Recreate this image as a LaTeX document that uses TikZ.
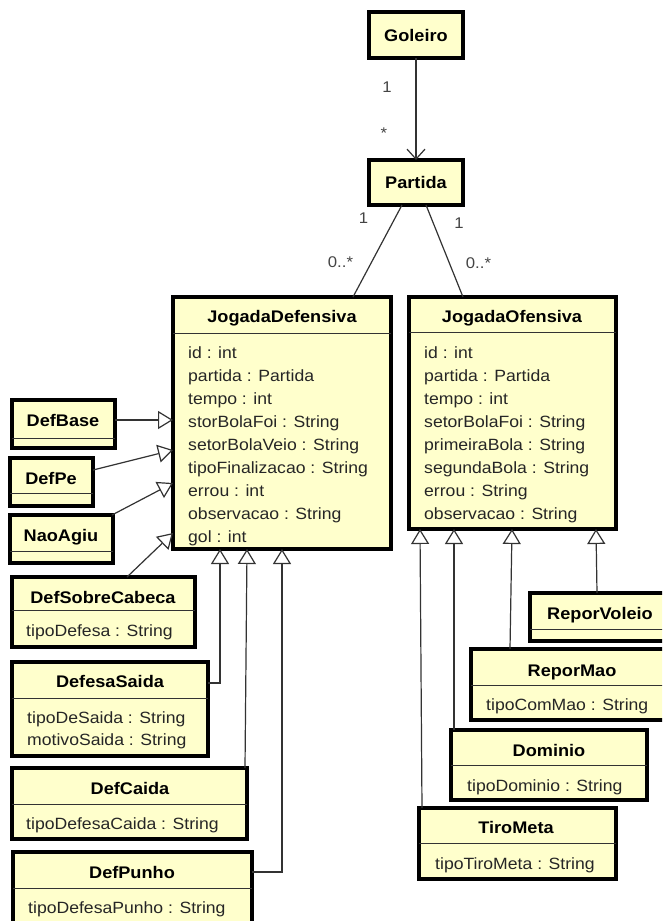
\documentclass[tikz,border=0pt]{standalone}
\usepackage{fontspec}
\setmainfont{Liberation Sans}[FakeStretch=1.08]
\usetikzlibrary{arrows.meta}
\definecolor{clsfill}{HTML}{FFFFCC}
\definecolor{linegray}{HTML}{333333}
\definecolor{lblgray}{HTML}{444444}
\definecolor{attrtext}{HTML}{262626}
\tikzset{
  cls/.style={draw=black, line width=3.1pt, fill=clsfill, inner sep=0pt, outer sep=0pt, anchor=north west},
  sepline/.style={draw=linegray, line width=1pt},
  ctitle/.style={font=\fontsize{16.8}{20}\selectfont\bfseries, anchor=base, inner sep=0pt},
  cattr/.style={font=\fontsize{16.3}{20}\selectfont, text=attrtext, anchor=base west, inner sep=0pt},
  gen/.style={draw=linegray, line width=1.2pt, -{Triangle[length=15pt, width=18pt, fill=white]}},
  assoc/.style={draw=linegray, line width=1.2pt},
  nav/.style={assoc, -{Straight Barb[length=10pt, width=18pt]}},
  mult/.style={font=\fontsize{15.5}{18}\selectfont, text=lblgray, inner sep=0pt},
}
% #1 name, #2 x1, #3 y1, #4 x2, #5 y2
\newcommand\ClassBox[5]{%
  \node[cls, minimum width={#4-#2}, minimum height={#5-#3}] (#1) at (#2,#3) {};}
\newcommand\ClassSep[2]{%
  \draw[sepline] (#1.west |- 0,#2) -- (#1.east |- 0,#2);}
\begin{document}
\begin{tikzpicture}[x=1pt, y=-1pt]
\useasboundingbox (0,0) rectangle (662,921);
\fill[white] (0,0) rectangle (662,921);
\clip (0,0) rectangle (662,921);

% ---------- Goleiro / Partida ----------
\ClassBox{goleiro}{369}{12}{463}{58}
\node[ctitle] (goleiro-t) at (416,41) {Goleiro};
\ClassBox{partida}{369}{160}{463}{205}
\node[ctitle] (partida-t) at (416,188) {Partida};

% ---------- JogadaDefensiva ----------
\ClassBox{jd}{173}{297}{391}{549}
\ClassSep{jd}{333}
\node[ctitle] (jd-t) at (282,322) {JogadaDefensiva};
\foreach \t [count=\i from 0] in {id : int, partida : Partida, tempo : int, storBolaFoi : String, setorBolaVeio : String, tipoFinalizacao : String, errou : int, observacao : String, gol : int}
  \node[cattr] (jd-a\i) at (188,358+23*\i) {\t};

% ---------- JogadaOfensiva ----------
\ClassBox{jo}{409}{297}{616}{529}
\ClassSep{jo}{332}
\node[ctitle] (jo-t) at (512,322) {JogadaOfensiva};
\foreach \t [count=\i from 0] in {id : int, partida : Partida, tempo : int, setorBolaFoi : String, primeiraBola : String, segundaBola : String, errou : String, observacao : String}
  \node[cattr] (jo-a\i) at (424,358+23*\i) {\t};

% ---------- left subclasses ----------
\ClassBox{defbase}{12}{400}{115}{448}
\ClassSep{defbase}{438}
\node[ctitle] (defbase-t) at (63,426) {DefBase};

\ClassBox{defpe}{10}{458}{93}{506}
\ClassSep{defpe}{493}
\node[ctitle] (defpe-t) at (51,484) {DefPe};

\ClassBox{naoagiu}{10}{515}{113}{563}
\ClassSep{naoagiu}{551}
\node[ctitle] (naoagiu-t) at (61,541) {NaoAgiu};

\ClassBox{sobre}{12}{577}{195}{647}
\ClassSep{sobre}{610}
\node[ctitle] (sobre-t) at (103,603) {DefSobreCabeca};
\node[cattr] (sobre-a0) at (26,636) {tipoDefesa : String};

\ClassBox{saida}{12}{662}{208}{756}
\ClassSep{saida}{698}
\node[ctitle] (saida-t) at (110,687) {DefesaSaida};
\node[cattr] (saida-a0) at (27,723) {tipoDeSaida : String};
\node[cattr] (saida-a1) at (27,745) {motivoSaida : String};

\ClassBox{caida}{12}{768}{247}{839}
\ClassSep{caida}{804}
\node[ctitle] (caida-t) at (130,794) {DefCaida};
\node[cattr] (caida-a0) at (26,829) {tipoDefesaCaida : String};

\ClassBox{punho}{13}{852}{252}{940}
\ClassSep{punho}{888}
\node[ctitle] (punho-t) at (132,878) {DefPunho};
\node[cattr] (punho-a0) at (28,913) {tipoDefesaPunho : String};

% ---------- right subclasses ----------
\ClassBox{voleio}{530}{593}{670}{641}
\ClassSep{voleio}{629}
\node[ctitle] (voleio-t) at (600,619) {ReporVoleio};

\ClassBox{mao}{471}{649}{673}{720}
\ClassSep{mao}{685}
\node[ctitle] (mao-t) at (572,676) {ReporMao};
\node[cattr] (mao-a0) at (486,710) {tipoComMao : String};

\ClassBox{dominio}{451}{730}{647}{800}
\ClassSep{dominio}{765}
\node[ctitle] (dominio-t) at (549,756) {Dominio};
\node[cattr] (dominio-a0) at (467,791) {tipoDominio : String};

\ClassBox{tiro}{419}{808}{616}{879}
\ClassSep{tiro}{843}
\node[ctitle] (tiro-t) at (516,833) {TiroMeta};
\node[cattr] (tiro-a0) at (435,869) {tipoTiroMeta : String};

% ---------- associations ----------
\draw[nav] (goleiro.south) -- (partida.north);
\node[mult] (m1) at (387,87) {1};
\node[mult] (m2) at (384,133) {*};

\draw[assoc] (partida.south -| 402,0) -- (jd.north -| 353,0);
\node[mult] (m3) at (363.5,218) {1};
\node[mult] (m4) at (340.5,262) {0..*};

\draw[assoc] (partida.south -| 426,0) -- (jo.north -| 463,0);
\node[mult] (m5) at (459,223) {1};
\node[mult] (m6) at (478.5,263) {0..*};

% ---------- generalizations (left) ----------
\draw[gen] (defbase.east |- 0,420) -- (jd.west |- 0,420);
\draw[gen] (defpe.east |- 0,470) -- (jd.west |- 0,450);
\draw[gen] (naoagiu.north -| 112,0) -- (jd.west |- 0,483);
\draw[gen] (sobre.north -| 127,0) -- (jd.west |- 0,533);
\draw[gen] (saida.east |- 0,683) -| (jd.south -| 220,0);
\draw[gen] (caida.north -| 245,0) -- (jd.south -| 247,0);
\draw[gen] (punho.east |- 0,872) -| (jd.south -| 282,0);

% ---------- generalizations (right) ----------
\draw[gen] (voleio.north -| 597,0) -- (jo.south -| 596,0);
\draw[gen] (mao.north -| 510,0) -- (jo.south -| 512,0);
\draw[gen] (dominio.north -| 454,0) -- (jo.south -| 454,0);
\draw[gen] (tiro.north -| 422,0) -- (jo.south -| 420,0);
\end{tikzpicture}
\end{document}
